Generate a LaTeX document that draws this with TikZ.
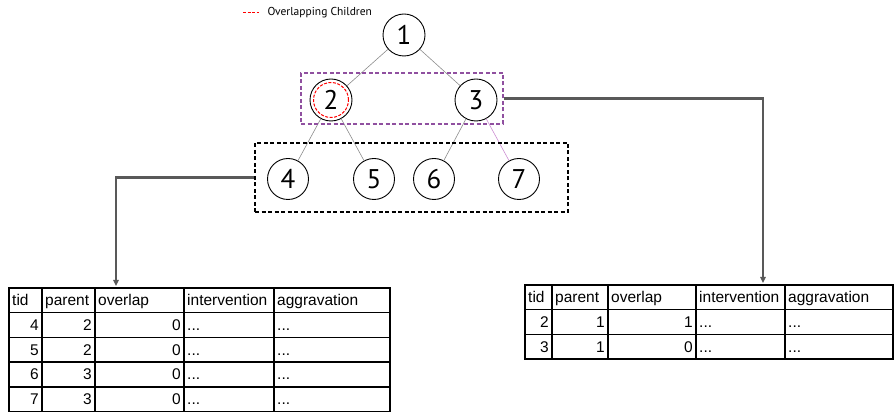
\documentclass[tikz,border=0pt]{standalone}
\usepackage{fontspec}
\newfontfamily\treefont{PT Sans}
\newfontfamily\tabfont{Liberation Sans}
\usepackage{tikz}
\usetikzlibrary{arrows.meta}
\definecolor{grpviolet}{HTML}{9050A0}
\definecolor{edgepink}{HTML}{CC8ED2}

\begin{document}
\begin{tikzpicture}[x=1pt,y=-1pt,
    tnode/.style={draw,circle,line width=0.9pt,minimum size=42pt,inner sep=0pt,font=\treefont\fontsize{27}{27}\selectfont},
    tedge/.style={draw=black!45,line width=0.6pt},
    ovring/.style={draw=red,circle,line width=1pt,dash pattern=on 3pt off 1.5pt,minimum size=35pt,inner sep=0pt},
    grpbox/.style={draw,line width=1.2pt,inner sep=0pt,dash pattern=on 4pt off 2.5pt},
    link/.style={draw=black!65,line width=2.2pt,-{Triangle[length=6pt,width=5.5pt]}},
    grid/.style={line width=1.6pt,line cap=rect},
    cell/.style={font=\tabfont\fontsize{15.5}{15.5}\selectfont,inner sep=0pt,text height=11pt,text depth=0pt}]
  \useasboundingbox (0,0) rectangle (895,419);
  % legend
  \draw[red,line width=1pt,dash pattern=on 3pt off 1.5pt] (243,13) -- (259,13);
  \node[anchor=west,font=\treefont\fontsize{11.5}{11.5}\selectfont] (legend) at (264,13) {Overlapping Children};
  % tree
  \node[tnode] (n1) at (404,35) {1};
  \node[tnode] (n2) at (331,100) {2};
  \node[tnode] (n3) at (476,100) {3};
  \node[ovring] (n2ring) at (n2) {};
  \node[tnode,minimum size=41pt] (n4) at (288,179) {4};
  \node[tnode,minimum size=41pt] (n5) at (374,179) {5};
  \node[tnode,minimum size=41pt] (n6) at (434,179) {6};
  \node[tnode,minimum size=41pt] (n7) at (519,179) {7};
  \draw[tedge] (n1) -- (n2);
  \draw[tedge] (n1) -- (n3);
  \draw[tedge] (n2) -- (n4);
  \draw[tedge] (n2) -- (n5);
  \draw[tedge] (n3) -- (n6);
  \draw[tedge,draw=edgepink] (n3) -- (n7);
  % level boxes
  \node[grpbox,draw=grpviolet,minimum width=202pt,minimum height=51pt] (lvl1) at (402,98.5) {};
  \node[grpbox,minimum width=313pt,minimum height=69pt] (lvl2) at (411.5,177.5) {};
  % links down to the tables
  \coordinate (ldrop) at (116,286);
  \coordinate (rdrop) at (763,283);
  \draw[link] (lvl2.west) -| (ldrop);
  \draw[link] (lvl1.east) -| (rdrop);
  % table for level 2
  \foreach \c in {9,42,95,184,274,390} \draw[grid] (\c,288) -- (\c,411.5);
  \foreach \r in {0,...,5} \draw[grid] (9,{288+24.7*\r}) -- (390,{288+24.7*\r});
  \foreach \x/\h in {9/tid,42/parent,95/overlap,184/intervention,274/aggravation}
    \node[cell,anchor=west] (lh-\h) at (\x+3,300.35) {\h};
  \foreach \t/\p/\o [count=\i] in {4/2/0,5/2/0,6/3/0,7/3/0} {
    \node[cell,anchor=east] (lt-\i) at (39,{300.35+24.7*\i}) {\t};
    \node[cell,anchor=east] (lp-\i) at (92,{300.35+24.7*\i}) {\p};
    \node[cell,anchor=east] (lo-\i) at (181,{300.35+24.7*\i}) {\o};
    \node[cell,anchor=west] (li-\i) at (187,{300.35+24.7*\i}) {...};
    \node[cell,anchor=west] (la-\i) at (277,{300.35+24.7*\i}) {...};
  }
  % table for level 1
  \foreach \c in {525,552,608,696,785,893} \draw[grid] (\c,285) -- (\c,359);
  \foreach \r in {0,...,3} \draw[grid] (525,{285+24.67*\r}) -- (893,{285+24.67*\r});
  \foreach \x/\h in {525/tid,552/parent,608/overlap,696/intervention,785/aggravation}
    \node[cell,anchor=west] (rh-\h) at (\x+3,297.3) {\h};
  \foreach \t/\p/\o [count=\i] in {2/1/1,3/1/0} {
    \node[cell,anchor=east] (rt-\i) at (549,{297.3+24.67*\i}) {\t};
    \node[cell,anchor=east] (rp-\i) at (605,{297.3+24.67*\i}) {\p};
    \node[cell,anchor=east] (ro-\i) at (693,{297.3+24.67*\i}) {\o};
    \node[cell,anchor=west] (ri-\i) at (699,{297.3+24.67*\i}) {...};
    \node[cell,anchor=west] (ra-\i) at (788,{297.3+24.67*\i}) {...};
  }
\end{tikzpicture}
\end{document}
